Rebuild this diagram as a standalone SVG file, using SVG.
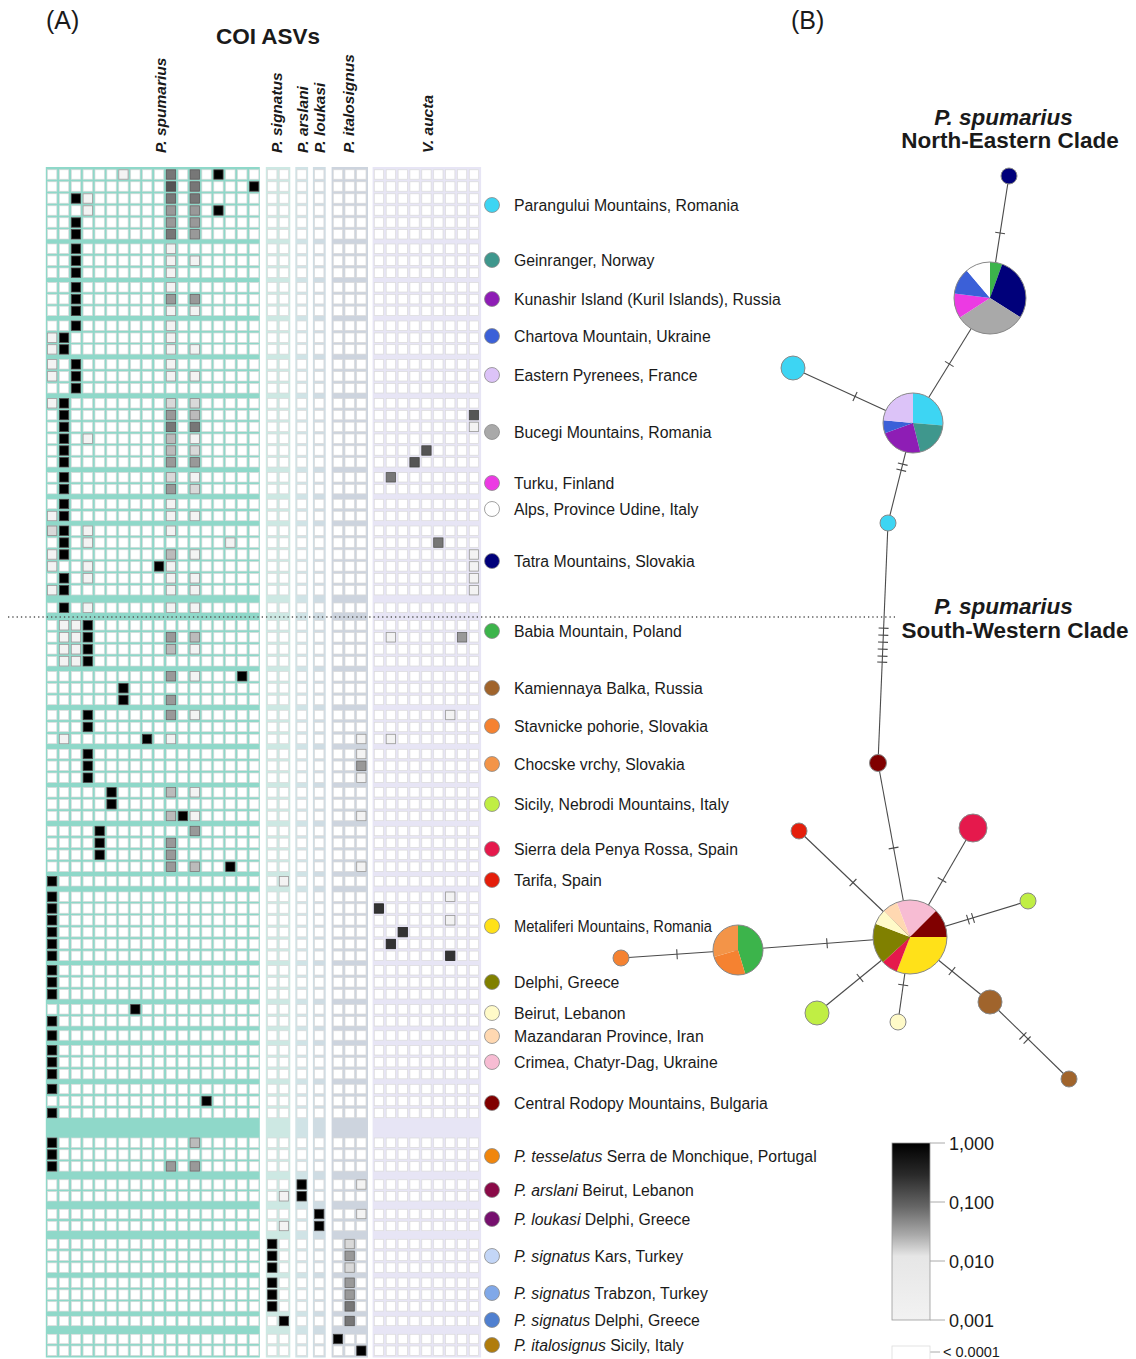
<svg xmlns="http://www.w3.org/2000/svg" width="1136" height="1359" viewBox="0 0 1136 1359">
<style>
text{font-family:"Liberation Sans",Arial,sans-serif;fill:#1a1a1a}
.lg{font-size:15.8px}
.hd{font-size:15.5px;font-weight:bold;font-style:italic}
.ti{font-size:22.5px;font-weight:bold}
.w{fill:#fff;stroke:#dadada;stroke-width:0.7}
.k{fill:#000;stroke:#444;stroke-width:0.8}
.d0{fill:#333;stroke:#222;stroke-width:0.8}
.d1{fill:#555;stroke:#444;stroke-width:0.8}
.d2{fill:#777;stroke:#555;stroke-width:0.8}
.g{fill:#999;stroke:#666;stroke-width:0.8}
.l{fill:#bbb;stroke:#777;stroke-width:0.8}
.l2{fill:#d9d9d9;stroke:#888;stroke-width:0.8}
.v{fill:#f3f3f3;stroke:#999;stroke-width:0.8}
.lc{stroke:#8a8a8a;stroke-width:0.8}
.e{stroke:#4a4a4a;stroke-width:1.1;fill:none}
.nd{stroke:#888;stroke-width:1}
.cbl{font-size:18px}
</style>
<defs>
<linearGradient id="cb" x1="0" y1="0" x2="0" y2="1">
<stop offset="0" stop-color="#000"/>
<stop offset="0.18" stop-color="#2a2a2a"/>
<stop offset="0.36" stop-color="#666"/>
<stop offset="0.52" stop-color="#aaa"/>
<stop offset="0.64" stop-color="#e6e6e6"/>
<stop offset="1" stop-color="#f2f2f2"/>
</linearGradient>
<g id="row">
<rect class="w" x="47.5" y="0" width="9.3" height="9.4"/><rect class="w" x="59.4" y="0" width="9.3" height="9.4"/><rect class="w" x="71.3" y="0" width="9.3" height="9.4"/><rect class="w" x="83.1" y="0" width="9.3" height="9.4"/><rect class="w" x="95" y="0" width="9.3" height="9.4"/><rect class="w" x="106.9" y="0" width="9.3" height="9.4"/><rect class="w" x="118.8" y="0" width="9.3" height="9.4"/><rect class="w" x="130.7" y="0" width="9.3" height="9.4"/><rect class="w" x="142.5" y="0" width="9.3" height="9.4"/><rect class="w" x="154.4" y="0" width="9.3" height="9.4"/><rect class="w" x="166.3" y="0" width="9.3" height="9.4"/><rect class="w" x="178.2" y="0" width="9.3" height="9.4"/><rect class="w" x="190.1" y="0" width="9.3" height="9.4"/><rect class="w" x="201.9" y="0" width="9.3" height="9.4"/><rect class="w" x="213.8" y="0" width="9.3" height="9.4"/><rect class="w" x="225.7" y="0" width="9.3" height="9.4"/><rect class="w" x="237.6" y="0" width="9.3" height="9.4"/><rect class="w" x="249.5" y="0" width="9.3" height="9.4"/>
<rect class="w" x="267.6" y="0" width="9.3" height="9.4"/><rect class="w" x="279.3" y="0" width="9.3" height="9.4"/>
<rect class="w" x="297" y="0" width="9.3" height="9.4"/>
<rect class="w" x="314.6" y="0" width="9.3" height="9.4"/>
<rect class="w" x="333.3" y="0" width="9.3" height="9.4"/><rect class="w" x="345" y="0" width="9.3" height="9.4"/><rect class="w" x="356.7" y="0" width="9.3" height="9.4"/>
<rect class="w" x="374.3" y="0" width="9.3" height="9.4"/><rect class="w" x="386.2" y="0" width="9.3" height="9.4"/><rect class="w" x="398.1" y="0" width="9.3" height="9.4"/><rect class="w" x="409.9" y="0" width="9.3" height="9.4"/><rect class="w" x="421.8" y="0" width="9.3" height="9.4"/><rect class="w" x="433.7" y="0" width="9.3" height="9.4"/><rect class="w" x="445.6" y="0" width="9.3" height="9.4"/><rect class="w" x="457.4" y="0" width="9.3" height="9.4"/><rect class="w" x="469.3" y="0" width="9.3" height="9.4"/>
</g>
</defs>
<rect width="1136" height="1359" fill="#fff"/>

<text x="46" y="29" font-size="25">(A)</text>
<text x="791" y="29" font-size="25">(B)</text>
<text x="268" y="44" class="ti" font-size="22px" text-anchor="middle">COI ASVs</text>

<g id="column-headers" class="hd">
<text transform="translate(166,153) rotate(-90)">P. spumarius</text>
<text transform="translate(281.5,153) rotate(-90)">P. signatus</text>
<text transform="translate(307.8,153) rotate(-90)">P. arslani</text>
<text transform="translate(325.3,153) rotate(-90)">P. loukasi</text>
<text transform="translate(353.5,153) rotate(-90)">P. italosignus</text>
<text transform="translate(432.5,153) rotate(-90)">V. aucta</text>
</g>

<g id="heatmap">
<rect x="45.8" y="167" width="214" height="1190.5" fill="#8fd8c9"/>
<rect x="265.8" y="167" width="24.5" height="1190.5" fill="#cde8e3"/>
<rect x="295.3" y="167" width="12.8" height="1190.5" fill="#d0e3e6"/>
<rect x="312.9" y="167" width="12.8" height="1190.5" fill="#cfdce3"/>
<rect x="331.6" y="167" width="36.4" height="1190.5" fill="#cdd4de"/>
<rect x="372.6" y="167" width="108.5" height="1190.5" fill="#e7e5f5"/>
<use href="#row" y="169.8"/><use href="#row" y="181.8"/><use href="#row" y="193.8"/><use href="#row" y="205.8"/><use href="#row" y="217.8"/><use href="#row" y="229.6"/>
<use href="#row" y="244"/><use href="#row" y="256"/><use href="#row" y="268"/>
<use href="#row" y="282.6"/><use href="#row" y="294.5"/><use href="#row" y="306.2"/>
<use href="#row" y="321"/><use href="#row" y="333"/><use href="#row" y="344.7"/>
<use href="#row" y="359.6"/><use href="#row" y="371.6"/><use href="#row" y="383.6"/>
<use href="#row" y="398.6"/><use href="#row" y="410.4"/><use href="#row" y="422.2"/><use href="#row" y="434"/><use href="#row" y="445.8"/><use href="#row" y="457.6"/>
<use href="#row" y="472.6"/><use href="#row" y="484.4"/>
<use href="#row" y="499.3"/><use href="#row" y="511.3"/>
<use href="#row" y="526"/><use href="#row" y="537.9"/><use href="#row" y="549.8"/><use href="#row" y="561.7"/><use href="#row" y="573.6"/><use href="#row" y="585.5"/>
<use href="#row" y="603"/>
<use href="#row" y="620.6"/><use href="#row" y="632.6"/><use href="#row" y="644.6"/><use href="#row" y="656.6"/>
<use href="#row" y="671.6"/><use href="#row" y="683.5"/><use href="#row" y="695.3"/>
<use href="#row" y="710.3"/><use href="#row" y="722.3"/><use href="#row" y="734.3"/>
<use href="#row" y="749.3"/><use href="#row" y="761.1"/><use href="#row" y="773"/>
<use href="#row" y="787.6"/><use href="#row" y="799.5"/><use href="#row" y="811.3"/>
<use href="#row" y="826.3"/><use href="#row" y="838.2"/><use href="#row" y="850.1"/><use href="#row" y="862"/>
<use href="#row" y="876.6"/>
<use href="#row" y="892"/><use href="#row" y="903.8"/><use href="#row" y="915.6"/><use href="#row" y="927.4"/><use href="#row" y="939.3"/><use href="#row" y="951.1"/>
<use href="#row" y="965.6"/><use href="#row" y="977.6"/><use href="#row" y="989.6"/>
<use href="#row" y="1004.6"/><use href="#row" y="1016.6"/>
<use href="#row" y="1030.8"/>
<use href="#row" y="1045.6"/><use href="#row" y="1057.5"/><use href="#row" y="1069.4"/>
<use href="#row" y="1084.3"/><use href="#row" y="1096.3"/><use href="#row" y="1108.3"/>
<use href="#row" y="1138"/><use href="#row" y="1149.8"/><use href="#row" y="1161.7"/>
<use href="#row" y="1179.8"/><use href="#row" y="1191.6"/>
<use href="#row" y="1209.3"/><use href="#row" y="1221.3"/>
<use href="#row" y="1239.3"/><use href="#row" y="1251.1"/><use href="#row" y="1262.9"/>
<use href="#row" y="1278"/><use href="#row" y="1289.9"/><use href="#row" y="1301.7"/>
<use href="#row" y="1316.3"/>
<use href="#row" y="1334.3"/><use href="#row" y="1346"/>
</g>

<g id="heatmap-values">
<rect class="v" x="118.8" y="169.8" width="9.3" height="9.4"/><rect class="d2" x="166.3" y="169.8" width="9.3" height="9.4"/><rect class="d2" x="190.1" y="169.8" width="9.3" height="9.4"/><rect class="k" x="213.8" y="169.8" width="9.3" height="9.4"/>
<rect class="d1" x="166.3" y="181.8" width="9.3" height="9.4"/><rect class="d2" x="190.1" y="181.8" width="9.3" height="9.4"/><rect class="k" x="249.5" y="181.8" width="9.3" height="9.4"/>
<rect class="k" x="71.3" y="193.8" width="9.3" height="9.4"/><rect class="v" x="83.1" y="193.8" width="9.3" height="9.4"/><rect class="d2" x="166.3" y="193.8" width="9.3" height="9.4"/><rect class="d2" x="190.1" y="193.8" width="9.3" height="9.4"/>
<rect class="v" x="83.1" y="205.8" width="9.3" height="9.4"/><rect class="g" x="166.3" y="205.8" width="9.3" height="9.4"/><rect class="g" x="190.1" y="205.8" width="9.3" height="9.4"/><rect class="k" x="213.8" y="205.8" width="9.3" height="9.4"/>
<rect class="k" x="71.3" y="217.8" width="9.3" height="9.4"/><rect class="g" x="166.3" y="217.8" width="9.3" height="9.4"/><rect class="g" x="190.1" y="217.8" width="9.3" height="9.4"/>
<rect class="k" x="71.3" y="229.6" width="9.3" height="9.4"/><rect class="d2" x="166.3" y="229.6" width="9.3" height="9.4"/><rect class="g" x="190.1" y="229.6" width="9.3" height="9.4"/>
<rect class="k" x="71.3" y="244" width="9.3" height="9.4"/><rect class="v" x="166.3" y="244" width="9.3" height="9.4"/>
<rect class="k" x="71.3" y="256" width="9.3" height="9.4"/><rect class="v" x="166.3" y="256" width="9.3" height="9.4"/><rect class="v" x="190.1" y="256" width="9.3" height="9.4"/>
<rect class="k" x="71.3" y="268" width="9.3" height="9.4"/><rect class="v" x="166.3" y="268" width="9.3" height="9.4"/>
<rect class="k" x="71.3" y="282.6" width="9.3" height="9.4"/><rect class="v" x="166.3" y="282.6" width="9.3" height="9.4"/>
<rect class="k" x="71.3" y="294.5" width="9.3" height="9.4"/><rect class="g" x="166.3" y="294.5" width="9.3" height="9.4"/><rect class="g" x="190.1" y="294.5" width="9.3" height="9.4"/>
<rect class="k" x="71.3" y="306.2" width="9.3" height="9.4"/><rect class="v" x="166.3" y="306.2" width="9.3" height="9.4"/><rect class="v" x="190.1" y="306.2" width="9.3" height="9.4"/>
<rect class="k" x="71.3" y="321" width="9.3" height="9.4"/><rect class="v" x="166.3" y="321" width="9.3" height="9.4"/>
<rect class="v" x="47.5" y="333" width="9.3" height="9.4"/><rect class="k" x="59.4" y="333" width="9.3" height="9.4"/><rect class="v" x="166.3" y="333" width="9.3" height="9.4"/>
<rect class="v" x="47.5" y="344.7" width="9.3" height="9.4"/><rect class="k" x="59.4" y="344.7" width="9.3" height="9.4"/><rect class="v" x="166.3" y="344.7" width="9.3" height="9.4"/><rect class="v" x="190.1" y="344.7" width="9.3" height="9.4"/>
<rect class="v" x="47.5" y="359.6" width="9.3" height="9.4"/><rect class="k" x="71.3" y="359.6" width="9.3" height="9.4"/><rect class="v" x="166.3" y="359.6" width="9.3" height="9.4"/>
<rect class="v" x="47.5" y="371.6" width="9.3" height="9.4"/><rect class="k" x="71.3" y="371.6" width="9.3" height="9.4"/><rect class="v" x="166.3" y="371.6" width="9.3" height="9.4"/><rect class="v" x="190.1" y="371.6" width="9.3" height="9.4"/>
<rect class="k" x="71.3" y="383.6" width="9.3" height="9.4"/>
<rect class="v" x="47.5" y="398.6" width="9.3" height="9.4"/><rect class="k" x="59.4" y="398.6" width="9.3" height="9.4"/><rect class="l2" x="166.3" y="398.6" width="9.3" height="9.4"/><rect class="l2" x="190.1" y="398.6" width="9.3" height="9.4"/>
<rect class="k" x="59.4" y="410.4" width="9.3" height="9.4"/><rect class="g" x="166.3" y="410.4" width="9.3" height="9.4"/><rect class="l" x="190.1" y="410.4" width="9.3" height="9.4"/><rect class="d1" x="469.3" y="410.4" width="9.3" height="9.4"/>
<rect class="k" x="59.4" y="422.2" width="9.3" height="9.4"/><rect class="d2" x="166.3" y="422.2" width="9.3" height="9.4"/><rect class="d2" x="190.1" y="422.2" width="9.3" height="9.4"/><rect class="v" x="469.3" y="422.2" width="9.3" height="9.4"/>
<rect class="k" x="59.4" y="434" width="9.3" height="9.4"/><rect class="v" x="83.1" y="434" width="9.3" height="9.4"/><rect class="l" x="166.3" y="434" width="9.3" height="9.4"/><rect class="v" x="190.1" y="434" width="9.3" height="9.4"/>
<rect class="k" x="59.4" y="445.8" width="9.3" height="9.4"/><rect class="l" x="166.3" y="445.8" width="9.3" height="9.4"/><rect class="l2" x="190.1" y="445.8" width="9.3" height="9.4"/><rect class="d1" x="421.8" y="445.8" width="9.3" height="9.4"/>
<rect class="k" x="59.4" y="457.6" width="9.3" height="9.4"/><rect class="g" x="166.3" y="457.6" width="9.3" height="9.4"/><rect class="g" x="190.1" y="457.6" width="9.3" height="9.4"/><rect class="d1" x="409.9" y="457.6" width="9.3" height="9.4"/>
<rect class="k" x="59.4" y="472.6" width="9.3" height="9.4"/><rect class="l2" x="166.3" y="472.6" width="9.3" height="9.4"/><rect class="v" x="190.1" y="472.6" width="9.3" height="9.4"/><rect class="d2" x="386.2" y="472.6" width="9.3" height="9.4"/>
<rect class="k" x="59.4" y="484.4" width="9.3" height="9.4"/><rect class="g" x="166.3" y="484.4" width="9.3" height="9.4"/><rect class="l2" x="190.1" y="484.4" width="9.3" height="9.4"/>
<rect class="k" x="59.4" y="499.3" width="9.3" height="9.4"/><rect class="v" x="166.3" y="499.3" width="9.3" height="9.4"/>
<rect class="v" x="47.5" y="511.3" width="9.3" height="9.4"/><rect class="k" x="59.4" y="511.3" width="9.3" height="9.4"/><rect class="v" x="166.3" y="511.3" width="9.3" height="9.4"/><rect class="v" x="190.1" y="511.3" width="9.3" height="9.4"/>
<rect class="l2" x="47.5" y="526" width="9.3" height="9.4"/><rect class="k" x="59.4" y="526" width="9.3" height="9.4"/><rect class="v" x="83.1" y="526" width="9.3" height="9.4"/><rect class="v" x="166.3" y="526" width="9.3" height="9.4"/>
<rect class="k" x="59.4" y="537.9" width="9.3" height="9.4"/><rect class="v" x="83.1" y="537.9" width="9.3" height="9.4"/><rect class="v" x="225.7" y="537.9" width="9.3" height="9.4"/><rect class="d2" x="433.7" y="537.9" width="9.3" height="9.4"/>
<rect class="v" x="47.5" y="549.8" width="9.3" height="9.4"/><rect class="k" x="59.4" y="549.8" width="9.3" height="9.4"/><rect class="l" x="166.3" y="549.8" width="9.3" height="9.4"/><rect class="v" x="190.1" y="549.8" width="9.3" height="9.4"/><rect class="v" x="469.3" y="549.8" width="9.3" height="9.4"/>
<rect class="v" x="47.5" y="561.7" width="9.3" height="9.4"/><rect class="v" x="83.1" y="561.7" width="9.3" height="9.4"/><rect class="k" x="154.4" y="561.7" width="9.3" height="9.4"/><rect class="v" x="166.3" y="561.7" width="9.3" height="9.4"/><rect class="v" x="469.3" y="561.7" width="9.3" height="9.4"/>
<rect class="k" x="59.4" y="573.6" width="9.3" height="9.4"/><rect class="v" x="83.1" y="573.6" width="9.3" height="9.4"/><rect class="v" x="166.3" y="573.6" width="9.3" height="9.4"/><rect class="v" x="190.1" y="573.6" width="9.3" height="9.4"/><rect class="v" x="469.3" y="573.6" width="9.3" height="9.4"/>
<rect class="v" x="47.5" y="585.5" width="9.3" height="9.4"/><rect class="k" x="59.4" y="585.5" width="9.3" height="9.4"/><rect class="v" x="166.3" y="585.5" width="9.3" height="9.4"/><rect class="v" x="190.1" y="585.5" width="9.3" height="9.4"/><rect class="v" x="469.3" y="585.5" width="9.3" height="9.4"/>
<rect class="k" x="59.4" y="603" width="9.3" height="9.4"/><rect class="v" x="83.1" y="603" width="9.3" height="9.4"/><rect class="v" x="166.3" y="603" width="9.3" height="9.4"/><rect class="v" x="190.1" y="603" width="9.3" height="9.4"/>
<rect class="v" x="59.4" y="620.6" width="9.3" height="9.4"/><rect class="v" x="71.3" y="620.6" width="9.3" height="9.4"/><rect class="k" x="83.1" y="620.6" width="9.3" height="9.4"/>
<rect class="v" x="59.4" y="632.6" width="9.3" height="9.4"/><rect class="v" x="71.3" y="632.6" width="9.3" height="9.4"/><rect class="k" x="83.1" y="632.6" width="9.3" height="9.4"/><rect class="g" x="166.3" y="632.6" width="9.3" height="9.4"/><rect class="l" x="190.1" y="632.6" width="9.3" height="9.4"/><rect class="v" x="386.2" y="632.6" width="9.3" height="9.4"/><rect class="g" x="457.4" y="632.6" width="9.3" height="9.4"/>
<rect class="v" x="59.4" y="644.6" width="9.3" height="9.4"/><rect class="v" x="71.3" y="644.6" width="9.3" height="9.4"/><rect class="k" x="83.1" y="644.6" width="9.3" height="9.4"/><rect class="l" x="166.3" y="644.6" width="9.3" height="9.4"/><rect class="v" x="190.1" y="644.6" width="9.3" height="9.4"/>
<rect class="v" x="59.4" y="656.6" width="9.3" height="9.4"/><rect class="v" x="71.3" y="656.6" width="9.3" height="9.4"/><rect class="k" x="83.1" y="656.6" width="9.3" height="9.4"/>
<rect class="g" x="166.3" y="671.6" width="9.3" height="9.4"/><rect class="v" x="190.1" y="671.6" width="9.3" height="9.4"/><rect class="k" x="237.6" y="671.6" width="9.3" height="9.4"/>
<rect class="k" x="118.8" y="683.5" width="9.3" height="9.4"/>
<rect class="k" x="118.8" y="695.3" width="9.3" height="9.4"/><rect class="g" x="166.3" y="695.3" width="9.3" height="9.4"/>
<rect class="k" x="83.1" y="710.3" width="9.3" height="9.4"/><rect class="g" x="166.3" y="710.3" width="9.3" height="9.4"/><rect class="v" x="190.1" y="710.3" width="9.3" height="9.4"/><rect class="v" x="445.6" y="710.3" width="9.3" height="9.4"/>
<rect class="k" x="83.1" y="722.3" width="9.3" height="9.4"/>
<rect class="v" x="59.4" y="734.3" width="9.3" height="9.4"/><rect class="k" x="142.5" y="734.3" width="9.3" height="9.4"/><rect class="v" x="166.3" y="734.3" width="9.3" height="9.4"/><rect class="v" x="356.7" y="734.3" width="9.3" height="9.4"/><rect class="v" x="386.2" y="734.3" width="9.3" height="9.4"/>
<rect class="k" x="83.1" y="749.3" width="9.3" height="9.4"/><rect class="v" x="356.7" y="749.3" width="9.3" height="9.4"/>
<rect class="k" x="83.1" y="761.1" width="9.3" height="9.4"/><rect class="g" x="356.7" y="761.1" width="9.3" height="9.4"/>
<rect class="k" x="83.1" y="773" width="9.3" height="9.4"/><rect class="v" x="356.7" y="773" width="9.3" height="9.4"/>
<rect class="k" x="106.9" y="787.6" width="9.3" height="9.4"/><rect class="l" x="166.3" y="787.6" width="9.3" height="9.4"/><rect class="v" x="190.1" y="787.6" width="9.3" height="9.4"/>
<rect class="k" x="106.9" y="799.5" width="9.3" height="9.4"/>
<rect class="l" x="166.3" y="811.3" width="9.3" height="9.4"/><rect class="k" x="178.2" y="811.3" width="9.3" height="9.4"/><rect class="v" x="190.1" y="811.3" width="9.3" height="9.4"/><rect class="v" x="356.7" y="811.3" width="9.3" height="9.4"/>
<rect class="k" x="95" y="826.3" width="9.3" height="9.4"/><rect class="g" x="190.1" y="826.3" width="9.3" height="9.4"/>
<rect class="k" x="95" y="838.2" width="9.3" height="9.4"/><rect class="g" x="166.3" y="838.2" width="9.3" height="9.4"/>
<rect class="k" x="95" y="850.1" width="9.3" height="9.4"/><rect class="g" x="166.3" y="850.1" width="9.3" height="9.4"/>
<rect class="g" x="166.3" y="862" width="9.3" height="9.4"/><rect class="l" x="190.1" y="862" width="9.3" height="9.4"/><rect class="k" x="225.7" y="862" width="9.3" height="9.4"/><rect class="v" x="356.7" y="862" width="9.3" height="9.4"/>
<rect class="k" x="47.5" y="876.6" width="9.3" height="9.4"/><rect class="v" x="279.3" y="876.6" width="9.3" height="9.4"/>
<rect class="k" x="47.5" y="892" width="9.3" height="9.4"/><rect class="v" x="445.6" y="892" width="9.3" height="9.4"/>
<rect class="k" x="47.5" y="903.8" width="9.3" height="9.4"/><rect class="d0" x="374.3" y="903.8" width="9.3" height="9.4"/>
<rect class="k" x="47.5" y="915.6" width="9.3" height="9.4"/><rect class="v" x="445.6" y="915.6" width="9.3" height="9.4"/>
<rect class="k" x="47.5" y="927.4" width="9.3" height="9.4"/><rect class="d0" x="398.1" y="927.4" width="9.3" height="9.4"/>
<rect class="k" x="47.5" y="939.3" width="9.3" height="9.4"/><rect class="d0" x="386.2" y="939.3" width="9.3" height="9.4"/>
<rect class="k" x="47.5" y="951.1" width="9.3" height="9.4"/><rect class="d0" x="445.6" y="951.1" width="9.3" height="9.4"/>
<rect class="k" x="47.5" y="965.6" width="9.3" height="9.4"/>
<rect class="k" x="47.5" y="977.6" width="9.3" height="9.4"/>
<rect class="k" x="47.5" y="989.6" width="9.3" height="9.4"/>
<rect class="k" x="130.7" y="1004.6" width="9.3" height="9.4"/>
<rect class="k" x="47.5" y="1016.6" width="9.3" height="9.4"/>
<rect class="k" x="47.5" y="1030.8" width="9.3" height="9.4"/>
<rect class="k" x="47.5" y="1045.6" width="9.3" height="9.4"/>
<rect class="k" x="47.5" y="1057.5" width="9.3" height="9.4"/>
<rect class="k" x="47.5" y="1069.4" width="9.3" height="9.4"/>
<rect class="k" x="47.5" y="1084.3" width="9.3" height="9.4"/>
<rect class="k" x="201.9" y="1096.3" width="9.3" height="9.4"/>
<rect class="k" x="47.5" y="1108.3" width="9.3" height="9.4"/>
<rect class="k" x="47.5" y="1138" width="9.3" height="9.4"/><rect class="l" x="190.1" y="1138" width="9.3" height="9.4"/>
<rect class="k" x="47.5" y="1149.8" width="9.3" height="9.4"/>
<rect class="k" x="47.5" y="1161.7" width="9.3" height="9.4"/><rect class="g" x="166.3" y="1161.7" width="9.3" height="9.4"/><rect class="g" x="190.1" y="1161.7" width="9.3" height="9.4"/>
<rect class="k" x="297" y="1179.8" width="9.3" height="9.4"/><rect class="v" x="356.7" y="1179.8" width="9.3" height="9.4"/>
<rect class="v" x="279.3" y="1191.6" width="9.3" height="9.4"/><rect class="k" x="297" y="1191.6" width="9.3" height="9.4"/>
<rect class="k" x="314.6" y="1209.3" width="9.3" height="9.4"/><rect class="v" x="356.7" y="1209.3" width="9.3" height="9.4"/>
<rect class="v" x="279.3" y="1221.3" width="9.3" height="9.4"/><rect class="k" x="314.6" y="1221.3" width="9.3" height="9.4"/>
<rect class="k" x="267.6" y="1239.3" width="9.3" height="9.4"/><rect class="l2" x="345" y="1239.3" width="9.3" height="9.4"/>
<rect class="k" x="267.6" y="1251.1" width="9.3" height="9.4"/><rect class="g" x="345" y="1251.1" width="9.3" height="9.4"/>
<rect class="k" x="267.6" y="1262.9" width="9.3" height="9.4"/><rect class="l2" x="345" y="1262.9" width="9.3" height="9.4"/>
<rect class="k" x="267.6" y="1278" width="9.3" height="9.4"/><rect class="g" x="345" y="1278" width="9.3" height="9.4"/>
<rect class="k" x="267.6" y="1289.9" width="9.3" height="9.4"/><rect class="g" x="345" y="1289.9" width="9.3" height="9.4"/>
<rect class="k" x="267.6" y="1301.7" width="9.3" height="9.4"/><rect class="d2" x="345" y="1301.7" width="9.3" height="9.4"/>
<rect class="k" x="279.3" y="1316.3" width="9.3" height="9.4"/><rect class="d2" x="345" y="1316.3" width="9.3" height="9.4"/>
<rect class="k" x="333.3" y="1334.3" width="9.3" height="9.4"/>
<rect class="k" x="356.7" y="1346" width="9.3" height="9.4"/>
</g>

<line x1="8" y1="617" x2="895" y2="617" stroke="#555" stroke-width="1.3" stroke-dasharray="1.3 3"/>

<g id="legend" class="lg">
<g id="lg-parangului"><circle cx="492" cy="205" r="7.5" fill="#3dd5f3" class="lc"/><text x="514" y="210.5">Parangului Mountains, Romania</text></g>
<g id="lg-geinranger"><circle cx="492" cy="260" r="7.5" fill="#3f978d" class="lc"/><text x="514" y="265.5">Geinranger, Norway</text></g>
<g id="lg-kunashir"><circle cx="492" cy="299" r="7.5" fill="#8e1db5" class="lc"/><text x="514" y="304.5">Kunashir Island (Kuril Islands), Russia</text></g>
<g id="lg-chartova"><circle cx="492" cy="336" r="7.5" fill="#3b60d8" class="lc"/><text x="514" y="341.5">Chartova Mountain, Ukraine</text></g>
<g id="lg-pyrenees"><circle cx="492" cy="375" r="7.5" fill="#dcc3f8" class="lc"/><text x="514" y="380.5">Eastern Pyrenees, France</text></g>
<g id="lg-bucegi"><circle cx="492" cy="432" r="7.5" fill="#a9a9a9" class="lc"/><text x="514" y="437.5">Bucegi Mountains, Romania</text></g>
<g id="lg-turku"><circle cx="492" cy="483" r="7.5" fill="#ec3ae3" class="lc"/><text x="514" y="488.5">Turku, Finland</text></g>
<g id="lg-alps"><circle cx="492" cy="509" r="7.5" fill="#fff" class="lc"/><text x="514" y="514.5">Alps, Province Udine, Italy</text></g>
<g id="lg-tatra"><circle cx="492" cy="561" r="7.5" fill="#00007a" class="lc"/><text x="514" y="566.5">Tatra Mountains, Slovakia</text></g>
<g id="lg-babia"><circle cx="492" cy="631" r="7.5" fill="#3cb44b" class="lc"/><text x="514" y="636.5">Babia Mountain, Poland</text></g>
<g id="lg-kamiennaya"><circle cx="492" cy="688" r="7.5" fill="#a0642c" class="lc"/><text x="514" y="693.5">Kamiennaya Balka, Russia</text></g>
<g id="lg-stavnicke"><circle cx="492" cy="726" r="7.5" fill="#f58231" class="lc"/><text x="514" y="731.5">Stavnicke pohorie, Slovakia</text></g>
<g id="lg-chocske"><circle cx="492" cy="764" r="7.5" fill="#f39448" class="lc"/><text x="514" y="769.5">Chocske vrchy, Slovakia</text></g>
<g id="lg-sicily"><circle cx="492" cy="804" r="7.5" fill="#c0ee44" class="lc"/><text x="514" y="809.5">Sicily, Nebrodi Mountains, Italy</text></g>
<g id="lg-sierra"><circle cx="492" cy="849" r="7.5" fill="#e5194c" class="lc"/><text x="514" y="854.5">Sierra dela Penya Rossa, Spain</text></g>
<g id="lg-tarifa"><circle cx="492" cy="880" r="7.5" fill="#e41e0b" class="lc"/><text x="514" y="885.5">Tarifa, Spain</text></g>
<g id="lg-metaliferi"><circle cx="492" cy="926" r="7.5" fill="#ffe119" class="lc"/><text x="514" y="931.5" textLength="198" lengthAdjust="spacingAndGlyphs">Metaliferi Mountains, Romania</text></g>
<g id="lg-delphi"><circle cx="492" cy="982" r="7.5" fill="#808000" class="lc"/><text x="514" y="987.5">Delphi, Greece</text></g>
<g id="lg-beirut"><circle cx="492" cy="1013" r="7.5" fill="#fffac8" class="lc"/><text x="514" y="1018.5">Beirut, Lebanon</text></g>
<g id="lg-mazandaran"><circle cx="492" cy="1036" r="7.5" fill="#ffd8b1" class="lc"/><text x="514" y="1041.5">Mazandaran Province, Iran</text></g>
<g id="lg-crimea"><circle cx="492" cy="1062" r="7.5" fill="#f7bcd3" class="lc"/><text x="514" y="1067.5">Crimea, Chatyr-Dag, Ukraine</text></g>
<g id="lg-rodopy"><circle cx="492" cy="1103" r="7.5" fill="#800000" class="lc"/><text x="514" y="1108.5">Central Rodopy Mountains, Bulgaria</text></g>
<g id="lg-tesselatus"><circle cx="492" cy="1156" r="7.5" fill="#f0860e" class="lc"/><text x="514" y="1161.5"><tspan font-style="italic">P. tesselatus</tspan> Serra de Monchique, Portugal</text></g>
<g id="lg-arslani"><circle cx="492" cy="1190" r="7.5" fill="#8a0a48" class="lc"/><text x="514" y="1195.5"><tspan font-style="italic">P. arslani</tspan> Beirut, Lebanon</text></g>
<g id="lg-loukasi"><circle cx="492" cy="1219" r="7.5" fill="#76106e" class="lc"/><text x="514" y="1224.5"><tspan font-style="italic">P. loukasi</tspan> Delphi, Greece</text></g>
<g id="lg-kars"><circle cx="492" cy="1256" r="7.5" fill="#c3d6f7" class="lc"/><text x="514" y="1261.5"><tspan font-style="italic">P. signatus</tspan> Kars, Turkey</text></g>
<g id="lg-trabzon"><circle cx="492" cy="1293" r="7.5" fill="#80a8e8" class="lc"/><text x="514" y="1298.5"><tspan font-style="italic">P. signatus</tspan> Trabzon, Turkey</text></g>
<g id="lg-sigdelphi"><circle cx="492" cy="1320" r="7.5" fill="#5080d0" class="lc"/><text x="514" y="1325.5"><tspan font-style="italic">P. signatus</tspan> Delphi, Greece</text></g>
<g id="lg-italosignus"><circle cx="492" cy="1345" r="7.5" fill="#b07c0c" class="lc"/><text x="514" y="1350.5"><tspan font-style="italic">P. italosignus</tspan> Sicily, Italy</text></g>
</g>

<text x="1003.5" y="125" class="ti" text-anchor="middle" font-style="italic">P. spumarius</text>
<text x="1010" y="148" class="ti" text-anchor="middle">North-Eastern Clade</text>
<text x="1003.5" y="614" class="ti" text-anchor="middle" font-style="italic">P. spumarius</text>
<text x="1015" y="638" class="ti" text-anchor="middle">South-Western Clade</text>

<g id="connectors" class="e">
<line x1="1009" y1="176" x2="990" y2="298"/>
<line x1="995.2" y1="232.2" x2="1005" y2="233.8"/>
<line x1="990" y1="298" x2="913" y2="423"/>
<line x1="945" y1="361.4" x2="953.6" y2="366.6"/>
<line x1="793" y1="368" x2="913" y2="423"/>
<line x1="852.9" y1="401" x2="857.1" y2="391.9"/>
<line x1="913" y1="423" x2="888" y2="523"/>
<line x1="897.9" y1="463" x2="907.6" y2="465.4"/>
<line x1="896.4" y1="469" x2="906.1" y2="471.4"/>
<line x1="888" y1="523" x2="878" y2="763"/>
<line x1="878.6" y1="628" x2="888.6" y2="628.4"/>
<line x1="878.3" y1="635" x2="888.3" y2="635.4"/>
<line x1="878" y1="642" x2="888" y2="642.4"/>
<line x1="877.7" y1="649" x2="887.7" y2="649.4"/>
<line x1="877.5" y1="656" x2="887.5" y2="656.4"/>
<line x1="877.2" y1="662" x2="887.2" y2="662.4"/>
<line x1="878" y1="763" x2="910" y2="937"/>
<line x1="888.7" y1="848.9" x2="898.5" y2="847.1"/>
<line x1="799" y1="831" x2="910" y2="937"/>
<line x1="856.4" y1="879" x2="849.6" y2="886.2"/>
<line x1="973" y1="828" x2="910" y2="937"/>
<line x1="937.7" y1="877.5" x2="946.3" y2="882.5"/>
<line x1="1028" y1="901" x2="910" y2="937"/>
<line x1="971.5" y1="913.2" x2="974.5" y2="922.8"/>
<line x1="966.5" y1="914.8" x2="969.5" y2="924.4"/>
<line x1="817" y1="1013" x2="910" y2="937"/>
<line x1="856.8" y1="974" x2="863.2" y2="981.8"/>
<line x1="898" y1="1022" x2="910" y2="937"/>
<line x1="898.2" y1="984.3" x2="908.2" y2="985.7"/>
<line x1="990" y1="1002" x2="910" y2="937"/>
<line x1="948.8" y1="975" x2="955.2" y2="967.2"/>
<line x1="1069" y1="1079" x2="990" y2="1002"/>
<line x1="1023.6" y1="1043.7" x2="1030.6" y2="1036.5"/>
<line x1="1019.4" y1="1039.5" x2="1026.4" y2="1032.3"/>
<line x1="621" y1="958" x2="738" y2="950"/>
<line x1="676.7" y1="949.2" x2="677.3" y2="959.2"/>
<line x1="738" y1="950" x2="910" y2="937"/>
<line x1="826.6" y1="938.3" x2="827.4" y2="948.3"/>
</g>

<g id="node-ne-tatra"><circle cx="1009" cy="176" r="8" fill="#00007a" class="nd"/></g>
<g id="node-ne-1">
<path d="M990,298 L990,262 A36,36 0 0 1 1002.19,264.13 Z" fill="#3cb44b"/>
<path d="M990,298 L1002.19,264.13 A36,36 0 0 1 1020.43,317.24 Z" fill="#00007a"/>
<path d="M990,298 L1020.43,317.24 A36,36 0 0 1 959.77,317.56 Z" fill="#a9a9a9"/>
<path d="M990,298 L959.77,317.56 A36,36 0 0 1 954.28,293.49 Z" fill="#ec3ae3"/>
<path d="M990,298 L954.28,293.49 A36,36 0 0 1 966.67,270.59 Z" fill="#3b60d8"/>
<path d="M990,298 L966.67,270.59 A36,36 0 0 1 990,262 Z" fill="#fff"/>
<circle cx="990" cy="298" r="36" fill="none" class="nd"/>
</g>
<g id="node-ne-2">
<path d="M913,423 L913,393 A30,30 0 0 1 942.89,425.62 Z" fill="#3dd5f3"/>
<path d="M913,423 L942.89,425.62 A30,30 0 0 1 920.26,452.11 Z" fill="#3f978d"/>
<path d="M913,423 L920.26,452.11 A30,30 0 0 1 884.81,433.26 Z" fill="#8e1db5"/>
<path d="M913,423 L884.81,433.26 A30,30 0 0 1 883.14,420.13 Z" fill="#3b60d8"/>
<path d="M913,423 L883.14,420.13 A30,30 0 0 1 913,393 Z" fill="#dcc3f8"/>
<circle cx="913" cy="423" r="30" fill="none" class="nd"/>
</g>
<g id="node-cyan-leaf"><circle cx="793" cy="368" r="12" fill="#3dd5f3" class="nd"/></g>
<g id="node-cyan-small"><circle cx="888" cy="523" r="8" fill="#3dd5f3" class="nd"/></g>
<g id="node-rodopy"><circle cx="878" cy="763" r="8.5" fill="#800000" class="nd"/></g>
<g id="node-sw-main">
<path d="M910,937 L896.74,902.46 A37,37 0 0 1 936.16,910.84 Z" fill="#f7bcd3"/>
<path d="M910,937 L936.16,910.84 A37,37 0 0 1 947,937 Z" fill="#800000"/>
<path d="M910,937 L947,937 A37,37 0 0 1 896.74,971.54 Z" fill="#ffe119"/>
<path d="M910,937 L896.74,971.54 A37,37 0 0 1 882.94,962.23 Z" fill="#e5194c"/>
<path d="M910,937 L882.94,962.23 A37,37 0 0 1 875.46,923.74 Z" fill="#808000"/>
<path d="M910,937 L875.46,923.74 A37,37 0 0 1 883.84,910.84 Z" fill="#fffac8"/>
<path d="M910,937 L883.84,910.84 A37,37 0 0 1 896.74,902.46 Z" fill="#ffd8b1"/>
<circle cx="910" cy="937" r="37" fill="none" class="nd"/>
</g>
<g id="node-babia-stavnicke">
<path d="M738,950 L738,925 A25,25 0 0 1 745.31,973.91 Z" fill="#3cb44b"/>
<path d="M738,950 L745.31,973.91 A25,25 0 0 1 714.02,957.06 Z" fill="#f58231"/>
<path d="M738,950 L714.02,957.06 A25,25 0 0 1 738,925 Z" fill="#f39448"/>
<circle cx="738" cy="950" r="25" fill="none" class="nd"/>
</g>
<g id="node-orange-leaf"><circle cx="621" cy="958" r="8" fill="#f58231" class="nd"/></g>
<g id="node-tarifa"><circle cx="799" cy="831" r="8" fill="#e41e0b" class="nd"/></g>
<g id="node-sierra"><circle cx="973" cy="828" r="14" fill="#e5194c" class="nd"/></g>
<g id="node-sicily-small"><circle cx="1028" cy="901" r="8" fill="#c0ee44" class="nd"/></g>
<g id="node-sicily-big"><circle cx="817" cy="1013" r="12" fill="#c0ee44" class="nd"/></g>
<g id="node-beirut"><circle cx="898" cy="1022" r="8" fill="#fffac8" class="nd"/></g>
<g id="node-kamiennaya-big"><circle cx="990" cy="1002" r="12" fill="#a0642c" class="nd"/></g>
<g id="node-kamiennaya-small"><circle cx="1069" cy="1079" r="8" fill="#a0642c" class="nd"/></g>

<g id="colour-scale">
<rect x="892" y="1143" width="38" height="177" fill="url(#cb)" stroke="#999" stroke-width="0.8"/>
<g stroke="#aaa" stroke-width="1">
<line x1="930" y1="1143" x2="945" y2="1143"/>
<line x1="930" y1="1202" x2="945" y2="1202"/>
<line x1="930" y1="1261" x2="945" y2="1261"/>
<line x1="930" y1="1320" x2="945" y2="1320"/>
<line x1="930" y1="1352" x2="940" y2="1352"/>
</g>
<text x="949" y="1150" class="cbl">1,000</text>
<text x="949" y="1209" class="cbl">0,100</text>
<text x="949" y="1268" class="cbl">0,010</text>
<text x="949" y="1327" class="cbl">0,001</text>
<rect x="892" y="1346" width="38" height="16" fill="#fff" stroke="#ddd" stroke-width="0.8"/>
<text x="943" y="1357" font-size="14.5">&lt; 0.0001</text>
</g>
</svg>
